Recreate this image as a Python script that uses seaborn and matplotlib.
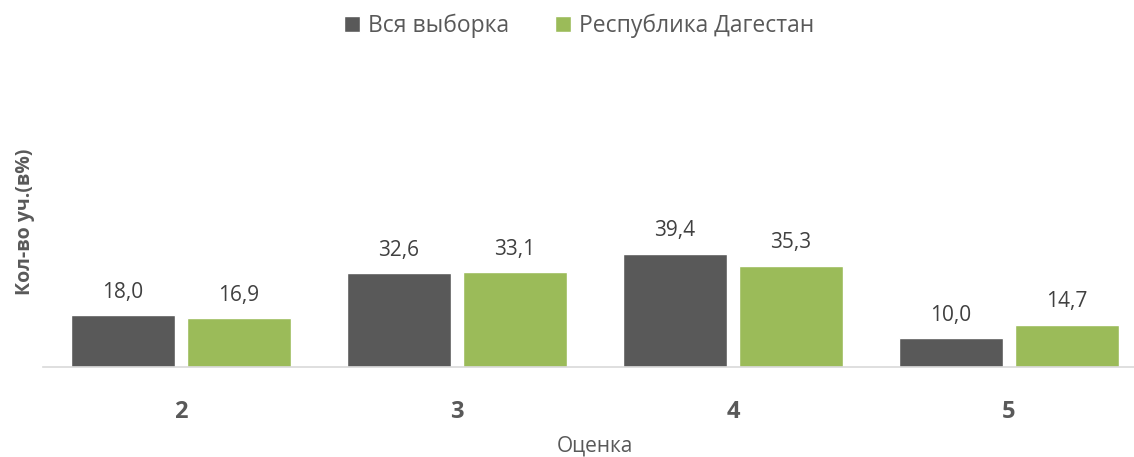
import matplotlib
matplotlib.use("Agg")
import matplotlib.pyplot as plt
import seaborn as sns
import pandas as pd

grades = ["2", "3", "4", "5"]
series_names = ["Вся выборка", "Республика Дагестан"]
all_sample = [18.0, 32.6, 39.4, 10.0]
dagestan = [16.9, 33.1, 35.3, 14.7]
colors = ["#595959", "#9BBB59"]

df = pd.DataFrame({
    "grade": grades * 2,
    "value": all_sample + dagestan,
    "series": [series_names[0]] * 4 + [series_names[1]] * 4,
})

sns.set_theme(style="white")
plt.rcParams["font.family"] = ["Open Sans", "DejaVu Sans"]

W, H = 1134, 457
fig = plt.figure(figsize=(W / 100, H / 100), dpi=100)
left, right, base, top = 43, 1147, 367, 80
ax = fig.add_axes([left / W, (H - base) / H, (right - left) / W, (base - top) / H])

sns.barplot(data=df, x="grade", y="value", hue="series", palette=colors,
            width=0.84, gap=0.1, saturation=1, ax=ax, legend=True)

ax.set_ylim(0, 100)
ax.set_xlim(-0.5, 3.5)
for c in ax.containers:
    ax.bar_label(c, fmt=lambda v: f"{v:.1f}".replace(".", ","), padding=9,
                 fontsize=15, color="#404040")

for s in ["top", "right", "left"]:
    ax.spines[s].set_visible(False)
ax.spines["bottom"].set_color("#D9D9D9")
ax.spines["bottom"].set_linewidth(1.2)
ax.set_yticks([])
ax.tick_params(axis="x", length=0, pad=24)
for t in ax.get_xticklabels():
    t.set_fontsize(17)
    t.set_fontweight("bold")
    t.set_color("#595959")
ax.set_xlabel("")
ax.set_ylabel("")
fig.text(595 / W, 1 - 446 / H, "Оценка", ha="center", va="center",
         fontsize=15, color="#595959")
fig.text(25 / W, 1 - 222 / H, "Кол-во уч.(в%)", rotation=90, ha="center",
         va="center", fontsize=14, fontweight="bold", color="#595959")

handles, labels = ax.get_legend_handles_labels()
ax.get_legend().remove()
fig.legend(handles, labels, loc="center", bbox_to_anchor=(579 / W, 1 - 26 / H),
           ncol=2, frameon=False, fontsize=16.5, handlelength=0.7,
           handleheight=0.7, handletextpad=0.35, columnspacing=2.0,
           labelcolor="#595959")

fig.savefig("out.png", dpi=100)
